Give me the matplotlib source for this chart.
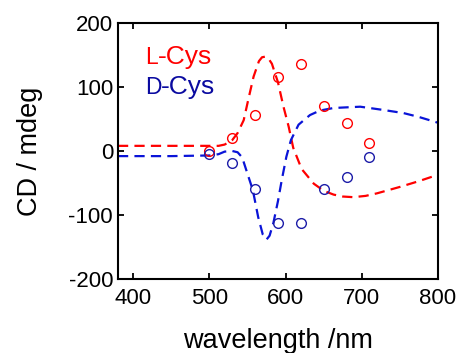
import matplotlib
matplotlib.use('Agg')
import matplotlib.pyplot as plt

plt.rcParams['font.family'] = ['Liberation Sans', 'DejaVu Sans']
plt.rcParams['axes.unicode_minus'] = False

# measured points (circles)
wl_pts = [500, 530, 560, 590, 620, 650, 680, 710]
cd_L_pts = [0, 21, 56, 116, 135, 70, 43, 12]
cd_D_pts = [-5, -19, -59, -112, -113, -60, -40, -9]

# fitted curves (dashed)
wl_fit = [380, 450, 500, 512, 520, 530, 537, 545, 551, 558, 565, 569, 573, 577,
          582, 590, 597, 604, 610, 621, 637, 650, 663, 675, 689, 705, 720, 750, 775, 800]
cd_L_fit = [8, 8, 8, 8, 10, 17, 28, 48, 80, 116, 140, 146, 147, 145,
            136, 107, 70, 38, 5, -28, -51, -62, -68, -71, -72, -70, -66, -56, -47, -37]

wl_fit_D = [380, 450, 500, 512, 520, 530, 537, 543, 549, 557, 564, 570, 575, 579,
            584, 590, 595, 601, 607, 617, 632, 645, 663, 680, 698, 728, 755, 775, 800]
cd_D_fit = [-8, -8, -7, -5, -1, 0, -2, -10, -32, -61, -103, -130, -138, -132,
            -112, -78, -45, -9, 17, 41, 56, 63, 67, 68, 69, 64, 59, 53, 44]

red = '#ff0000'
blue_line = '#0a14d8'
blue_mark = '#1c1ca8'
blue_text = '#0a0aa0'

fig = plt.figure(figsize=(4.58, 3.53), dpi=100)
ax = fig.add_axes([0.2576, 0.2088, 0.6987, 0.727])

ax.plot(wl_fit, cd_L_fit, color=red, lw=1.6, dashes=(4.6, 2.8))
ax.plot(wl_fit_D, cd_D_fit, color=blue_line, lw=1.6, dashes=(4.6, 2.8))
ax.plot(wl_pts, cd_L_pts, 'o', mfc='none', mec=red, ms=7, mew=1)
ax.plot(wl_pts, cd_D_pts, 'o', mfc='none', mec=blue_mark, ms=7, mew=1)

ax.set_xlim(380, 800)
ax.set_ylim(-200, 200)
ax.set_xticks([400, 500, 600, 700, 800])
ax.set_yticks([-200, -100, 0, 100, 200])
ax.tick_params(direction='in', length=4.5, width=1.3, labelsize=16,
               top=True, right=True)
ax.tick_params(axis='x', pad=6)
ax.tick_params(axis='y', pad=3.5)
for sp in ax.spines.values():
    sp.set_linewidth(1.5)

ax.set_xlabel('wavelength /nm', fontsize=19.5, labelpad=14)
ax.set_ylabel('CD / mdeg', fontsize=19.5, labelpad=18)

# legend text with small-cap L / D
fig.canvas.draw()
for letter, y, col in [('L', 0.838, red), ('D', 0.721, blue_text)]:
    t = ax.text(0.084, y, letter, transform=ax.transAxes, color=col,
                fontsize=16.5, va='baseline', ha='left')
    bb = t.get_window_extent(renderer=fig.canvas.get_renderer())
    x1 = ax.transAxes.inverted().transform((bb.x1, bb.y0))[0]
    ax.text(x1, y, '-Cys', transform=ax.transAxes, color=col,
            fontsize=19, va='baseline', ha='left')

fig.savefig('out.png', dpi=100)
